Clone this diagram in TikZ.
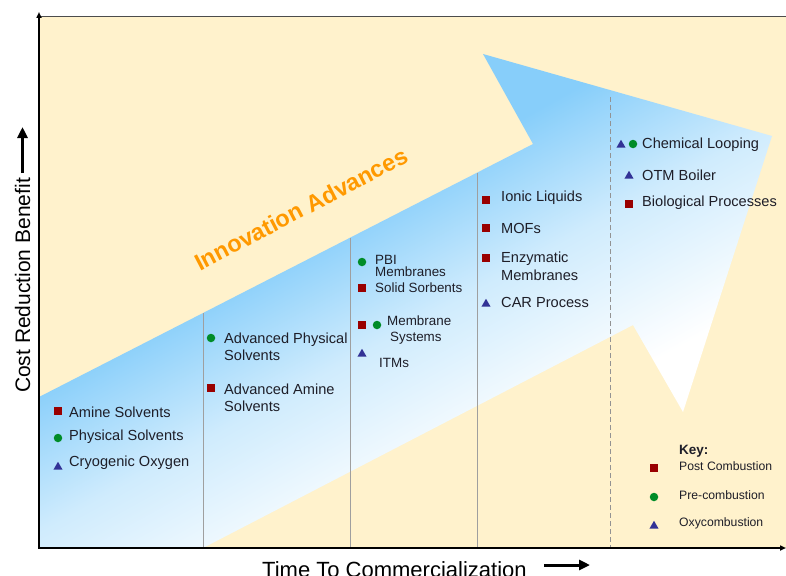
\documentclass[tikz,border=0pt]{standalone}
\usepackage{fontspec}
\setmainfont{Liberation Sans}
\usetikzlibrary{shapes.geometric}
\usetikzlibrary{arrows.meta}

\definecolor{cream}{RGB}{255,242,204}
\definecolor{arrowblue}{RGB}{135,206,250}
\colorlet{arrowpale}{arrowblue!40!white}
\definecolor{postred}{RGB}{153,0,0}
\definecolor{pregreen}{RGB}{0,140,40}
\definecolor{oxyblue}{RGB}{50,50,150}
\definecolor{innovorange}{RGB}{255,153,0}
\definecolor{techtext}{RGB}{30,30,40}

\pgfdeclareverticalshading{arrowfade}{100bp}{color(0bp)=(white); color(35bp)=(white); color(48bp)=(arrowpale); color(59bp)=(arrowblue); color(100bp)=(arrowblue)}

\tikzset{
  tech/.style={font=\fontsize{14.6}{17}\selectfont, text=techtext, inner sep=0pt, anchor=west, align=left},
  techsmall/.style={tech, font=\fontsize{13.4}{12}\selectfont},
  keytext/.style={tech, font=\fontsize{12.2}{14}\selectfont},
  postmark/.style={fill=postred, minimum size=8pt, inner sep=0pt},
  premark/.style={circle, fill=pregreen, minimum size=8.5pt, inner sep=0pt},
  oxymark/.style={regular polygon, regular polygon sides=3, fill=oxyblue, minimum size=10.5pt, inner sep=0pt},
  divider/.style={gray!75, line width=0.8pt},
  axisline/.style={black, line width=2pt},
  labelarrow/.style={black, line width=3pt, -{Triangle[length=11pt, width=10pt]}}
}

\begin{document}
\begin{tikzpicture}[x=1pt, y=-1pt]
        \useasboundingbox (0,0) rectangle (786,575);

        % chart background and the big arrow
        \fill[cream] (39,16) rectangle (786,548);
        \shade[shading=arrowfade, shading angle=29] (39,397) -- (533,144) -- (483,54) -- (772,136) -- (683,412) -- (633,325) -- (203,548) -- (39,548) -- cycle;

        % stage dividers
        \draw[divider] (203,313) -- (203,548);
        \draw[divider] (350,238) -- (350,548);
        \draw[divider] (477,173) -- (477,548);
        \draw[divider, gray!85, dashed, dash pattern=on 5pt off 3pt] (610,97) -- (610,548);

        % axes
        \draw[gray!60!black, line width=0.8pt] (39,16) -- (786,16);
        \draw[axisline, -{Triangle[length=6pt, width=5pt]}] (39,548) -- (39,12);
        \draw[axisline, -{Triangle[length=6pt, width=5pt]}] (38,548) -- (786,548);

        \node[font=\fontsize{21}{24}\selectfont, rotate=90, inner sep=0pt] (ylabel) at (22.5,285.5) {Cost Reduction Benefit};
        \coordinate (yarrowfrom) at (22.5,173);
        \coordinate (yarrowto) at (22.5,127);
        \draw[labelarrow] (yarrowfrom) -- (yarrowto);

        \node[font=\fontsize{22}{24}\selectfont, inner sep=0pt, anchor=base west] (xlabel) at (262,577) {Time To Commercialization};
        \coordinate (xarrowfrom) at (544,565);
        \coordinate (xarrowto) at (590,565);
        \draw[labelarrow] (xarrowfrom) -- (xarrowto);

        \node[font=\bfseries\fontsize{23.5}{26}\selectfont, text=innovorange, rotate=27.5, inner sep=0pt] (innov) at (301,209) {Innovation Advances};

        % first stage
        \node[postmark] (amineM) at (58,411) {};
        \node[tech] (amine) at (69,412) {Amine Solvents};
        \node[premark] (physM) at (58,438) {};
        \node[tech] (phys) at (69,437) {Physical Solvents};
        \node[oxymark] (cryoM) at (58,467) {};
        \node[tech] (cryo) at (69,463) {Cryogenic Oxygen};

        % second stage
        \node[premark] (advphysM) at (211,338) {};
        \node[tech] (advphys) at (224,346.5) {Advanced Physical\\Solvents};
        \node[postmark] (advamineM) at (211,388) {};
        \node[tech] (advamine) at (224,397.5) {Advanced Amine\\Solvents};

        % third stage
        \node[premark] (pbiM) at (362,262) {};
        \node[techsmall] (pbi) at (375,266) {PBI\\Membranes};
        \node[postmark] (sorbM) at (362,288) {};
        \node[techsmall] (sorb) at (375,288) {Solid Sorbents};
        \node[postmark] (membM) at (362,325) {};
        \node[premark] (membMb) at (377,325) {};
        \node[techsmall, font=\fontsize{13.4}{16}\selectfont] (memb) at (387,330) {Membrane\\\hspace*{3pt}Systems};
        \node[oxymark] (itmM) at (362,354) {};
        \node[techsmall] (itm) at (379,363) {ITMs};

        % fourth stage
        \node[postmark] (ionicM) at (486,200) {};
        \node[tech] (ionic) at (501,198) {Ionic Liquids};
        \node[postmark] (mofM) at (486,228) {};
        \node[tech] (mof) at (501,228) {MOFs};
        \node[postmark] (enzM) at (486,258) {};
        \node[tech, font=\fontsize{14.6}{18}\selectfont] (enz) at (501,266) {Enzymatic\\Membranes};
        \node[oxymark] (carM) at (486,304) {};
        \node[tech] (car) at (501,302) {CAR Process};

        % fifth stage
        \node[oxymark] (chemM) at (621,145) {};
        \node[premark] (chemMb) at (633,144) {};
        \node[tech] (chem) at (642,145) {Chemical Looping};
        \node[oxymark] (otmM) at (629,176) {};
        \node[tech] (otm) at (642,175) {OTM Boiler};
        \node[postmark] (bioM) at (629,204) {};
        \node[tech] (bio) at (642,203) {Biological Processes};

        % key
        \node[tech, font=\bfseries\fontsize{13.5}{15}\selectfont] (key) at (679,451) {Key:};
        \node[postmark] (keypostM) at (654,468) {};
        \node[keytext] (keypost) at (679,466) {Post Combustion};
        \node[premark] (keypreM) at (654,497) {};
        \node[keytext] (keypre) at (679,495) {Pre-combustion};
        \node[oxymark] (keyoxyM) at (654,526) {};
        \node[keytext] (keyoxy) at (679,523) {Oxycombustion};
\end{tikzpicture}
\end{document}
